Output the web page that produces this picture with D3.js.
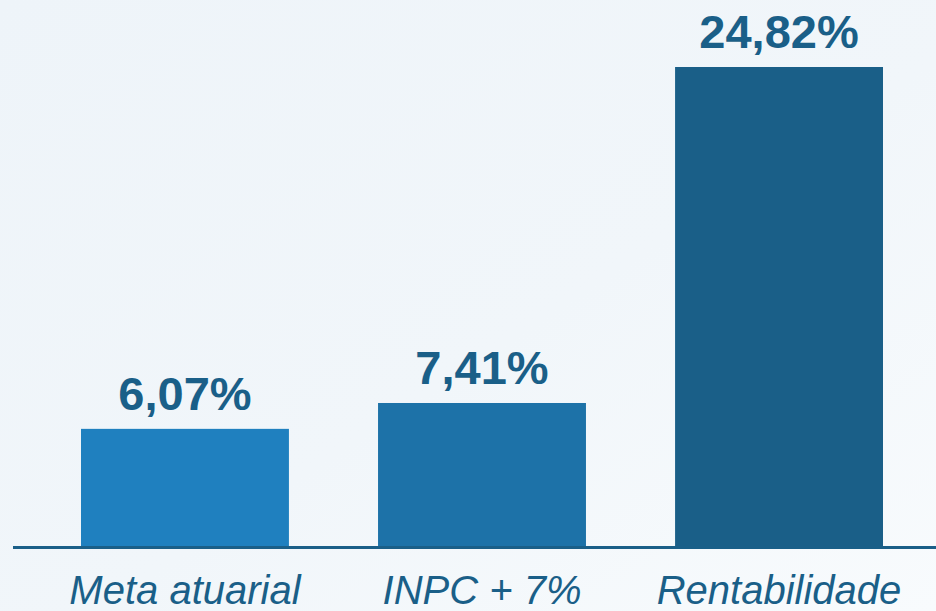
<!DOCTYPE html>
<meta charset="utf-8">
<html>
<head>
  <title>Rentabilidade</title>
  <style>
    body { margin: 0; background: #f3f7fa; }
    svg { display: block; }
  </style>
</head>
<body>

  <svg id="chart" width="936" height="611"></svg>

  <script src="https://d3js.org/d3.v7.min.js"></script>
  <script>

    // data
    var categories = ["Meta atuarial", "INPC + 7%", "Rentabilidade"];
    var values = [6.07, 7.41, 24.82];
    var valueLabels = ["6,07%", "7,41%", "24,82%"];
    var barColors = ["#1f80bf", "#1d72a8", "#1a5f88"];

    var svg = d3.select("#chart"),
      width = +svg.attr("width"),
      height = +svg.attr("height");

    // soft background
    var defs = svg.append("defs");
    var grad = defs.append("linearGradient")
      .attr("id", "bg")
      .attr("x1", "0%").attr("y1", "0%")
      .attr("x2", "100%").attr("y2", "100%");
    grad.append("stop").attr("offset", "0%").attr("stop-color", "#eef4f9");
    grad.append("stop").attr("offset", "55%").attr("stop-color", "#f1f6fa");
    grad.append("stop").attr("offset", "100%").attr("stop-color", "#f8fbfd");

    svg.append("rect")
      .attr("width", width)
      .attr("height", height)
      .attr("fill", "url(#bg)");

    var baseline = 546;

    var x = d3.scaleBand()
      .domain(categories)
      .range([81, 883])
      .paddingInner(0.3)
      .paddingOuter(0);

    var y = d3.scaleLinear()
      .domain([0, d3.max(values)])
      .range([baseline, 67]);

    var data = categories.map(function (c, i) {
      return { cat: c, value: values[i], label: valueLabels[i], color: barColors[i] };
    });

    // bars
    svg.append("g")
      .selectAll("rect")
      .data(data)
      .enter()
      .append("rect")
      .attr("x", function (d) { return x(d.cat) })
      .attr("y", function (d) { return y(d.value) })
      .attr("width", x.bandwidth())
      .attr("height", function (d) { return baseline - y(d.value) })
      .attr("fill", function (d) { return d.color });

    // axis line
    svg.append("line")
      .attr("x1", 13)
      .attr("x2", width)
      .attr("y1", baseline + 1.5)
      .attr("y2", baseline + 1.5)
      .attr("stroke", "#1a5f88")
      .attr("stroke-width", 3);

    // value labels
    svg.append("g")
      .selectAll("text")
      .data(data)
      .enter()
      .append("text")
      .attr("x", function (d) { return x(d.cat) + x.bandwidth() / 2 })
      .attr("y", function (d) { return y(d.value) - 19 })
      .attr("text-anchor", "middle")
      .style("font-family", "'Liberation Sans', Arial, sans-serif")
      .style("font-weight", "bold")
      .style("font-size", "47px")
      .style("fill", "#1a5f88")
      .text(function (d) { return d.label });

    // category labels
    svg.append("g")
      .selectAll("text")
      .data(data)
      .enter()
      .append("text")
      .attr("x", function (d) { return x(d.cat) + x.bandwidth() / 2 })
      .attr("y", 604)
      .attr("text-anchor", "middle")
      .style("font-family", "'Liberation Sans', Arial, sans-serif")
      .style("font-style", "italic")
      .style("font-size", "40px")
      .style("fill", "#1a5f88")
      .text(function (d) { return d.cat });

  </script>
</body>
</html>
